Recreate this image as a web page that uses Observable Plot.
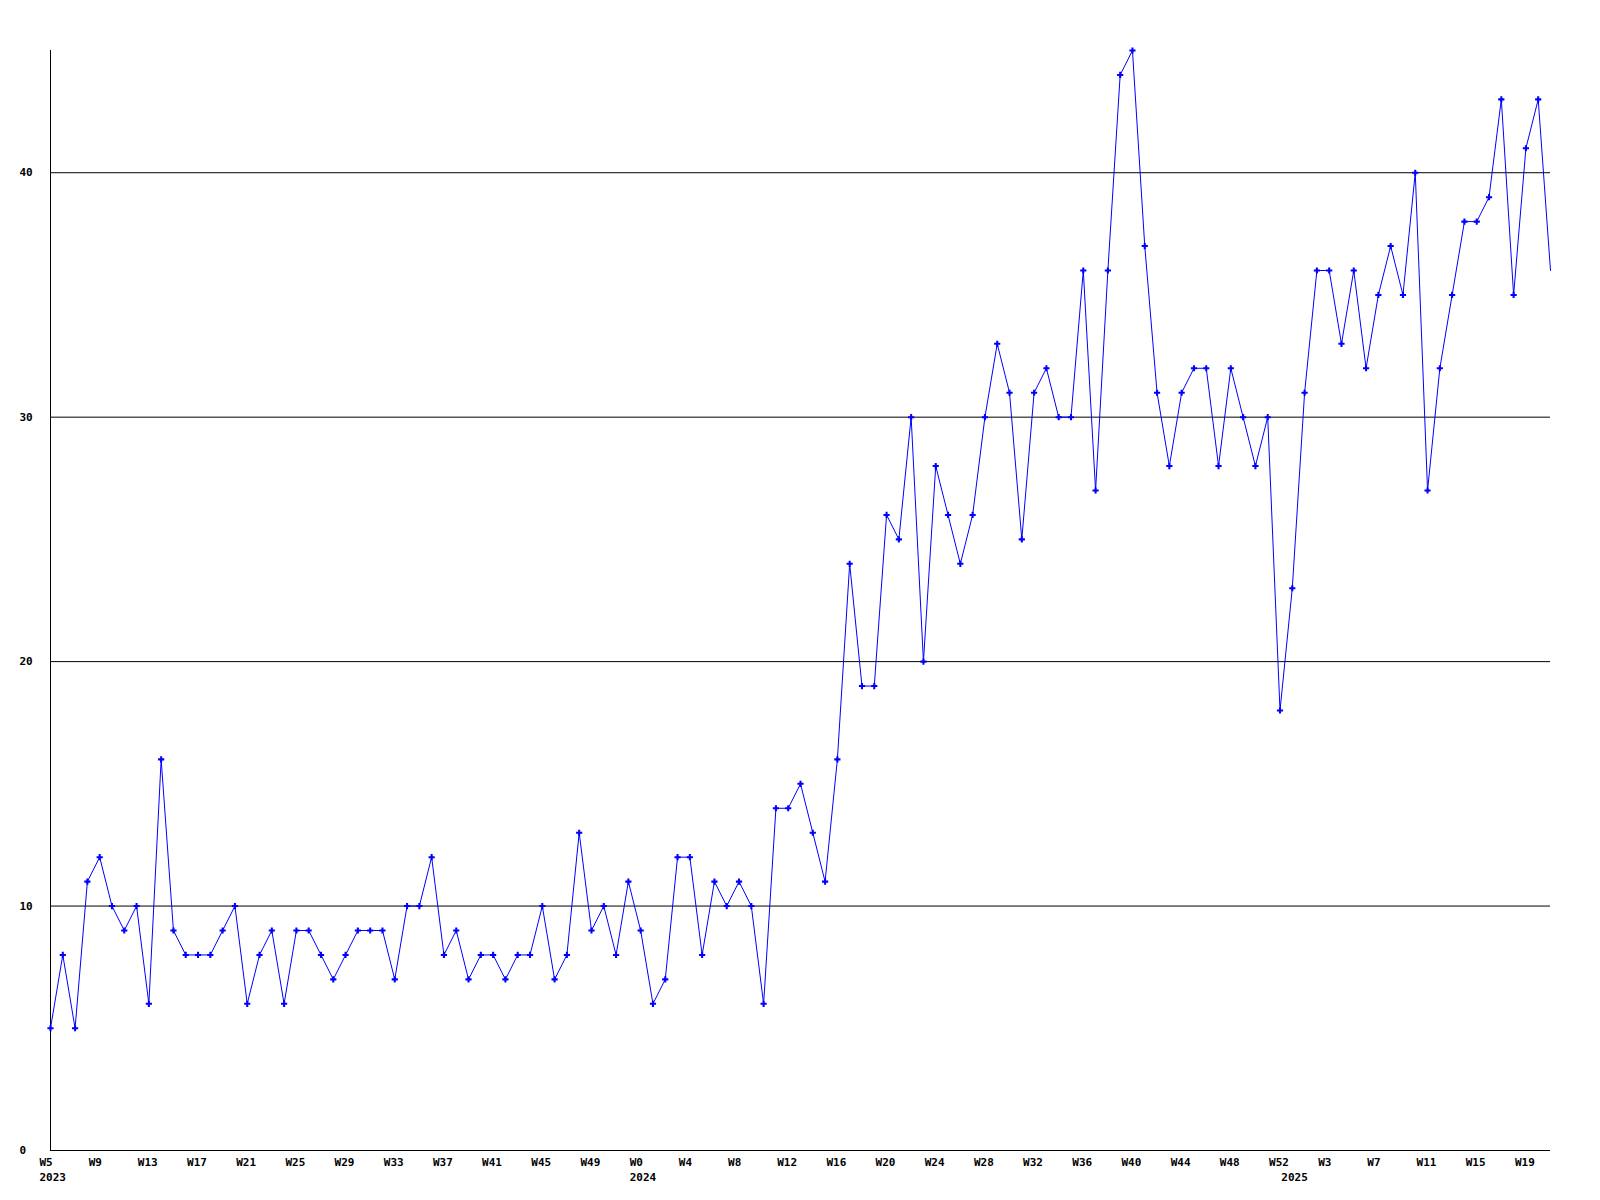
<!DOCTYPE html>
<html>
<head>
<meta charset="utf-8">
<script src="https://cdn.jsdelivr.net/npm/d3@7"></script>
<script src="https://cdn.jsdelivr.net/npm/@observablehq/plot@0.6"></script>
<style>
  html, body { margin: 0; padding: 0; background: #fff; }
  #chart svg { display: block; }
</style>
</head>
<body>
<div id="chart"></div>
<script>
// Week segments per year (week numbering as shown in the chart)
const years = [2023, 2024, 2025];
const firstWeek = [5, 0, 0];
const lastWeek = [52, 52, 21];

// Weekly values, W5 2023 .. W21 2025
const values = [
  5, 8, 5, 11, 12, 10, 9, 10, 6, 16,
  9, 8, 8, 8, 9, 10, 6, 8, 9, 6,
  9, 9, 8, 7, 8, 9, 9, 9, 7, 10,
  10, 12, 8, 9, 7, 8, 8, 7, 8, 8,
  10, 7, 8, 13, 9, 10, 8, 11, 9, 6,
  7, 12, 12, 8, 11, 10, 11, 10, 6, 14,
  14, 15, 13, 11, 16, 24, 19, 19, 26, 25,
  30, 20, 28, 26, 24, 26, 30, 33, 31, 25,
  31, 32, 30, 30, 36, 27, 36, 44, 45, 37,
  31, 28, 31, 32, 32, 28, 32, 30, 28, 30,
  18, 23, 31, 36, 36, 33, 36, 32, 35, 37,
  35, 40, 27, 32, 35, 38, 38, 39, 43, 35,
  41, 43, 36
];

const yTicks = [0, 10, 20, 30, 40];
const tickEvery = 4;

// Build the table of points
const weeks = [];
years.forEach((yr, k) => {
  for (let w = firstWeek[k]; w <= lastWeek[k]; w++) weeks.push({year: yr, week: w});
});
const data = values.map((v, i) => ({i, value: v, year: weeks[i].year, label: "W" + weeks[i].week}));
const xTicks = data.filter(d => d.i % tickEvery === 0);
const yearStarts = data.filter((d, k) => k === 0 || data[k - 1].year !== d.year);

const font = "'DejaVu Sans Mono', 'Liberation Mono', monospace";

const chart = Plot.plot({
  width: 1600,
  height: 1200,
  marginLeft: 50,
  marginRight: 50,
  marginTop: 50,
  marginBottom: 50,
  style: {background: "#fff", fontFamily: font, fontSize: "11px", fontWeight: "bold", color: "#000"},
  x: {type: "linear", domain: [0, values.length - 1], axis: null},
  y: {domain: [0, 45], axis: null},
  marks: [
    Plot.ruleY([10, 20, 30, 40], {stroke: "#000", strokeWidth: 1}),
    Plot.ruleY([0], {stroke: "#000", strokeWidth: 1}),
    Plot.ruleX([0], {stroke: "#000", strokeWidth: 1}),
    Plot.line(data, {x: "i", y: "value", stroke: "#0000ff", strokeWidth: 1}),
    Plot.dot(data.slice(0, -1), {x: "i", y: "value", symbol: "cross", r: 2.6, fill: "#0000ff", stroke: "none"}),
    Plot.text(yTicks, {x: () => 0, y: d => d, text: d => String(d), textAnchor: "start", dx: -31, fill: "#000"}),
    Plot.text(xTicks, {x: "i", y: () => 0, text: "label", textAnchor: "start", dx: -11, dy: 12, fill: "#000"}),
    Plot.text(yearStarts, {x: "i", y: () => 0, text: d => String(d.year), textAnchor: "start", dx: -11, dy: 27, fill: "#000"})
  ]
});
document.getElementById("chart").appendChild(chart);
</script>
</body>
</html>
